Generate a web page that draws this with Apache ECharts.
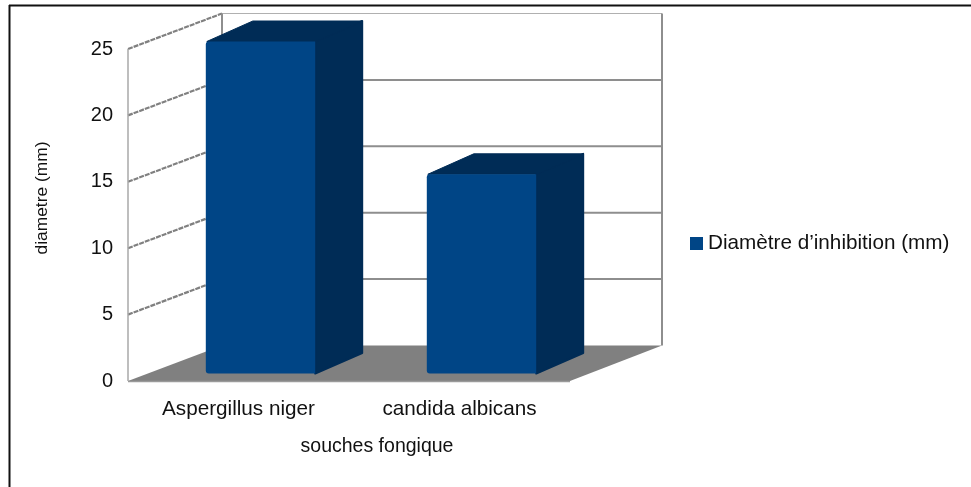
<!DOCTYPE html>
<html><head><meta charset="utf-8">
<style>html,body{margin:0;padding:0;background:#fff}#c{width:971px;height:487px}</style>
<script src="https://cdn.jsdelivr.net/npm/echarts@6/dist/echarts.min.js"></script>
</head><body><div id="c"></div>
<script>
const categories = ['Aspergillus niger', 'candida albicans'];
const seriesName = 'Diamètre d’inhibition (mm)';
const values = [25, 15];
const yTicks = [0, 5, 10, 15, 20, 25];
const xTitle = 'souches fongique';
const yTitle = 'diametre (mm)';

const DX = 94, RDX = 92, DY = -35.5; // depth of the 3D box
const BX = 22, BY = -7.5;            // front face of bars
const BDX = 47, BDY = -20.5;         // bar depth
const FRONT = '#004586', DARK = '#002C56', WALL = '#8E8E8E', FLOOR = '#808080';

function renderWall(params, api) {
  const cs = params.coordSys;
  const L = cs.x, R = cs.x + cs.width;
  const v = api.value(0);
  const y = api.coord([0, v])[1];
  const children = [];
  if (v === 0) {
    children.push({type:'polygon', shape:{points:[[L,y],[L+DX,y+DY],[R+RDX,y+DY],[R,y]]}, style:{fill:FLOOR}});
    children.push({type:'line', shape:{x1:L,y1:y+0.5,x2:R,y2:y+0.5}, style:{stroke:'#9A9A9A',lineWidth:1.5}});
  } else {
    children.push({type:'line', shape:{x1:L+DX,y1:y+DY,x2:R+RDX,y2:y+DY}, style:{stroke:v===25?'#B0B0B0':WALL,lineWidth:v===25?1:2}});
    children.push({type:'line', shape:{x1:L,y1:y,x2:L+DX,y2:y+DY}, style:{stroke:'#808080',lineWidth:2.2,lineDash:[5,1]}});
  }
  if (v === 25) {
    const y0 = api.coord([0, 0])[1];
    children.push({type:'line', shape:{x1:L+DX,y1:y+DY,x2:L+DX,y2:y0+DY}, style:{stroke:WALL,lineWidth:2}});
    children.push({type:'line', shape:{x1:R+RDX,y1:y+DY,x2:R+RDX,y2:y0+DY}, style:{stroke:WALL,lineWidth:2}});
    children.push({type:'line', shape:{x1:L,y1:y,x2:L,y2:y0}, style:{stroke:'#A8A8A8',lineWidth:1.5}});
  }
  return {type:'group', children};
}

function renderBar(params, api) {
  const c = api.value(0), v = api.value(1);
  const top = api.coord([c, v]), base = api.coord([c, 0]);
  const w = api.size([1, 0])[0] * 0.495;
  const x1 = top[0] - w / 2 + BX, x2 = x1 + w;
  const yt = top[1] + BY, yb = base[1] + BY;
  const st = (f, lw) => ({fill:f, stroke:f, lineWidth:lw, lineJoin:'round'});
  return {type:'group', children:[
    {type:'polygon', shape:{points:[[x2,yt],[x2+BDX,yt+BDY],[x2+BDX,yb+BDY],[x2,yb]]}, style:st(DARK, 2)},
    {type:'polygon', shape:{points:[[x1+1,yt],[x1+BDX,yt+BDY],[x2+BDX,yt+BDY],[x2,yt]]}, style:st(DARK, 1)},
    {type:'rect', shape:{x:x1,y:yt,width:w,height:yb-yt,r:[3,0,0,3]}, style:{fill:FRONT}}
  ]};
}

const chart = echarts.init(document.getElementById('c'), null, {renderer:'canvas'});
chart.setOption({
  animation:false,
  backgroundColor:'#fff',
  textStyle:{fontFamily:'Liberation Sans'},
  grid:{left:128, right:401, top:49, bottom:106},
  legend:{
    data:[{name:seriesName, icon:'rect'}],
    left:685, top:228, itemWidth:13, itemHeight:13, itemGap:6,
    textStyle:{fontSize:20.7, color:'#111', fontFamily:'Liberation Sans'}
  },
  xAxis:{
    type:'category', data:categories,
    name:xTitle, nameLocation:'middle', nameGap:56,
    nameTextStyle:{fontSize:19.5, color:'#111', padding:[0,0,0,56]},
    axisLine:{show:false}, axisTick:{show:false}, splitLine:{show:false},
    axisLabel:{fontSize:20.7, color:'#111', margin:18}
  },
  yAxis:{
    type:'value', min:0, max:25, interval:5,
    name:yTitle, nameLocation:'middle', nameGap:77,
    nameTextStyle:{fontSize:17.4, color:'#111', padding:[0,0,0,34]},
    axisLine:{show:false}, axisTick:{show:false}, splitLine:{show:false},
    axisLabel:{fontSize:20, color:'#111', margin:15, padding:[7,0,0,0]}
  },
  series:[
    {type:'custom', name:'wall', silent:true, z:1, renderItem:renderWall, data:yTicks.map(t=>[t]), encode:{y:0}, clip:false},
    {type:'custom', name:seriesName, z:2, renderItem:renderBar, itemStyle:{color:FRONT},
     data:values.map((v,i)=>[i,v]), encode:{x:0,y:1}, clip:false}
  ],
  graphic:[
    {type:'line', silent:true, shape:{x1:9,y1:5.5,x2:971,y2:5.5}, style:{stroke:'#111',lineWidth:2}},
    {type:'line', silent:true, shape:{x1:9.5,y1:5,x2:9.5,y2:487}, style:{stroke:'#111',lineWidth:2}}
  ]
});
</script></body></html>
